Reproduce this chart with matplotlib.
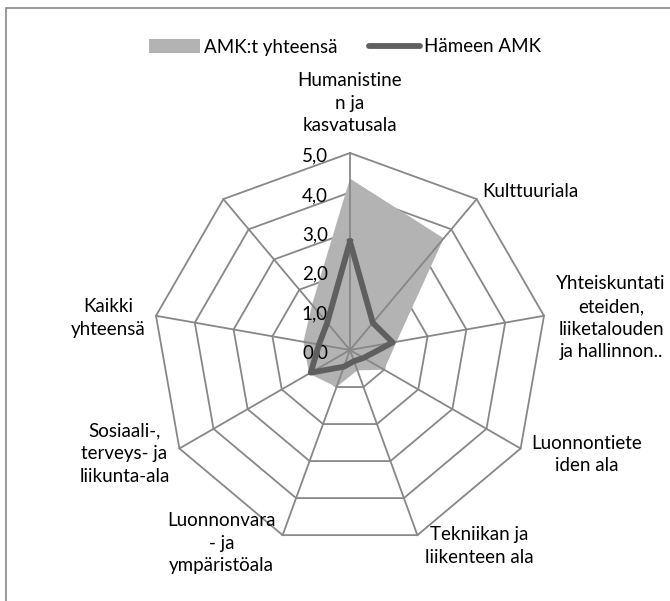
import numpy as np
import matplotlib
matplotlib.use("Agg")
import matplotlib.pyplot as plt
from matplotlib.patches import Patch, Rectangle
from matplotlib.lines import Line2D

plt.rcParams['font.family'] = ['Lato', 'DejaVu Sans']

# category labels as wrapped in the chart (the ninth spoke has no name)
categories = [
    "Humanistine\nn ja\nkasvatusala",
    "Kulttuuriala",
    "Yhteiskuntati\neteiden,\nliiketalouden\nja hallinnon..",
    "Luonnontiete\niden ala",
    "Tekniikan ja\nliikenteen ala",
    "Luonnonvara\n- ja\nympäristöala",
    "Sosiaali-,\nterveys- ja\nliikunta-ala",
    "Kaikki\nyhteensä",
    "",
]
amk_total = [4.35, 3.7, 1.2, 1.0, 0.55, 1.0, 1.2, 1.2, 1.5]
hamk = [2.75, 0.9, 1.1, 0.4, 0.3, 0.45, 1.15, 0.8, 0.9]
series_names = ["AMK:t yhteensä", "Hämeen AMK"]
ticks = [0, 1, 2, 3, 4, 5]

GRID = '#878787'
FILL = '#b3b3b3'
DARK = '#5f5f5f'
FS = 13.5

fig = plt.figure(figsize=(6.7, 6.01), dpi=100)

# chart area border (only top/left visible in the crop)
fig.patches.append(Rectangle((6 / 670, -0.2), 1.5, 0.2 + 593 / 601,
                             transform=fig.transFigure, fill=False,
                             edgecolor=GRID, linewidth=1.2))

ax = fig.add_axes([0.22836, 0.08985, 0.58806, 0.65557], projection='polar')
ax.set_theta_offset(np.pi / 2)
ax.set_theta_direction(-1)
ax.set_ylim(0, 5)
ax.grid(False)
ax.set_xticks([])
ax.set_yticks([])
ax.spines['polar'].set_visible(False)
ax.patch.set_visible(False)

n = len(categories)
angles = np.arange(n) * 2 * np.pi / n
closed = np.append(angles, angles[0])

# ring gridlines (below the fill)
for t in ticks[1:]:
    ax.plot(closed, [t] * (n + 1), color=GRID, lw=1.3, zorder=1, clip_on=False)

ax.fill(closed, amk_total + amk_total[:1], color=FILL, lw=0, zorder=2)

# spokes drawn over the fill
for a in angles:
    ax.plot([a, a], [0, ticks[-1]], color=GRID, lw=1.3, zorder=3, clip_on=False)

ax.plot(closed, hamk + hamk[:1], color=DARK, lw=4.2, zorder=4,
        solid_joinstyle='round', clip_on=False)

# value labels along the top spoke
for t in ticks:
    ax.annotate(f"{t:.1f}".replace('.', ','), xy=(0, t), xytext=(-22, -3),
                textcoords='offset pixels', ha='right', va='center',
                fontsize=FS, annotation_clip=False)

# category labels: offset from each outer vertex
offsets = [(0, 50, 'center'), (6, 8, 'left'), (67, -2, 'center'),
           (66, -6, 'center'), (62, -11, 'center'), (-61, -8, 'center'),
           (-55, -5, 'center'), (-48, -2, 'center'), (0, 0, 'center')]
for a, lab, (dx, dy, ha) in zip(angles, categories, offsets):
    ax.annotate(lab, xy=(a, ticks[-1]), xytext=(dx, dy),
                textcoords='offset pixels', ha=ha, va='center',
                multialignment='center', linespacing=1.41,
                fontsize=FS, annotation_clip=False)

handles = [Patch(facecolor=FILL, edgecolor='none'),
           Line2D([], [], color=DARK, lw=4.2, solid_capstyle='round')]
fig.legend(handles, series_names, loc='center', bbox_to_anchor=(345 / 670, 1 - 47 / 601),
           ncol=2, frameon=False, fontsize=FS, handlelength=2.7,
           handletextpad=0.2, columnspacing=1.7)

fig.savefig('out.png', dpi=100)
